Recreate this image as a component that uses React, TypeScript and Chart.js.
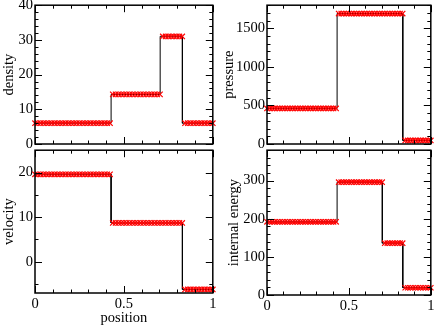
import React, { useEffect, useRef } from "react";
import { Chart, registerables } from "chart.js";

Chart.register(...registerables);

const FONT = "'Liberation Serif', 'Times New Roman', serif";

// numerical solution: sample positions and values
const positions = [
  0, 0.0156, 0.0313, 0.0469, 0.0625, 0.0781, 0.0938, 0.1094,
  0.125, 0.1406, 0.1563, 0.1719, 0.1875, 0.2031, 0.2188, 0.2344,
  0.25, 0.2656, 0.2813, 0.2969, 0.3125, 0.3281, 0.3438, 0.3594,
  0.375, 0.3906, 0.4063, 0.4219,
  0.4375, 0.4531, 0.4688, 0.4844, 0.5, 0.5156, 0.5313, 0.5469,
  0.5625, 0.5781, 0.5938, 0.6094, 0.625, 0.6406, 0.6563, 0.6719,
  0.6875, 0.7031,
  0.7188, 0.7344, 0.75, 0.7656, 0.7813, 0.7969, 0.8125, 0.8281,
  0.8438, 0.8594, 0.875, 0.8906, 0.9063, 0.9219, 0.9375, 0.9531, 0.9688, 0.9844, 1,
];

const densityValues = [
  6.0, 6.0, 6.0, 6.0, 6.0, 6.0, 6.0, 6.0,
  6.0, 6.0, 6.0, 6.0, 6.0, 6.0, 6.0, 6.0,
  6.0, 6.0, 6.0, 6.0, 6.0, 6.0, 6.0, 6.0,
  6.0, 6.0, 6.0, 6.0,
  14.3, 14.3, 14.3, 14.3, 14.3, 14.3, 14.3, 14.3,
  14.3, 14.3, 14.3, 14.3, 14.3, 14.3, 14.3, 14.3,
  14.3, 14.3,
  31.0, 31.0, 31.0, 31.0, 31.0, 31.0, 31.0, 31.0,
  6.0, 6.0, 6.0, 6.0, 6.0, 6.0, 6.0, 6.0, 6.0, 6.0, 6.0,
];

const pressureValues = [
  461, 461, 461, 461, 461, 461, 461, 461,
  461, 461, 461, 461, 461, 461, 461, 461,
  461, 461, 461, 461, 461, 461, 461, 461,
  461, 461, 461, 461,
  1692, 1692, 1692, 1692, 1692, 1692, 1692, 1692,
  1692, 1692, 1692, 1692, 1692, 1692, 1692, 1692,
  1692, 1692,
  1692, 1692, 1692, 1692, 1692, 1692, 1692, 1692,
  46, 46, 46, 46, 46, 46, 46, 46, 46, 46, 46,
];

const velocityValues = [
  19.6, 19.6, 19.6, 19.6, 19.6, 19.6, 19.6, 19.6,
  19.6, 19.6, 19.6, 19.6, 19.6, 19.6, 19.6, 19.6,
  19.6, 19.6, 19.6, 19.6, 19.6, 19.6, 19.6, 19.6,
  19.6, 19.6, 19.6, 19.6,
  8.7, 8.7, 8.7, 8.7, 8.7, 8.7, 8.7, 8.7,
  8.7, 8.7, 8.7, 8.7, 8.7, 8.7, 8.7, 8.7,
  8.7, 8.7,
  8.7, 8.7, 8.7, 8.7, 8.7, 8.7, 8.7, 8.7,
  -6.2, -6.2, -6.2, -6.2, -6.2, -6.2, -6.2, -6.2, -6.2, -6.2, -6.2,
];

const energyValues = [
  192, 192, 192, 192, 192, 192, 192, 192,
  192, 192, 192, 192, 192, 192, 192, 192,
  192, 192, 192, 192, 192, 192, 192, 192,
  192, 192, 192, 192,
  296, 296, 296, 296, 296, 296, 296, 296,
  296, 296, 296, 296, 296, 296, 296, 296,
  296, 296,
  136, 136, 136, 136, 136, 136, 136, 136,
  19, 19, 19, 19, 19, 19, 19, 19, 19, 19, 19,
];

// exact solution (step profile)
const exactPositions = [0, 0.428, 0.428, 0.704, 0.704, 0.829, 0.829, 1];
const densityExact = [6.0, 6.0, 14.28, 14.28, 31.04, 31.04, 5.99, 5.99];
const pressureExact = [461, 461, 1692, 1692, 1692, 1692, 46, 46];
const velocityExact = [19.6, 19.6, 8.69, 8.69, 8.69, 8.69, -6.2, -6.2];
const energyExact = [192, 192, 296, 296, 136, 136, 19.2, 19.2];

// tick labels
const positionTicks = [0, 0.5, 1];
const densityTicks = [0, 10, 20, 30, 40];
const pressureTicks = [0, 500, 1000, 1500];
const velocityTicks = [0, 10, 20];
const energyTicks = [0, 100, 200, 300];

const framePlugin = {
  id: "frame",
  afterDatasetsDraw(chart: any, _args: any, opts: any) {
    const { ctx, chartArea: a, scales } = chart;
    const xs = scales.x;
    const ys = scales.y;
    ctx.save();
    ctx.strokeStyle = "#000";
    ctx.lineWidth = 1;
    ctx.beginPath();
    const isMajor = (v: number, majors: number[]) =>
      majors.some((m) => Math.abs(m - v) < 1e-6);
    for (let k = Math.ceil(xs.min / opts.xMinor - 1e-9); k * opts.xMinor <= xs.max + 1e-9; k++) {
      const v = k * opts.xMinor;
      const L = isMajor(v, opts.xMajor) ? 7 : 3.5;
      const px = Math.round(xs.getPixelForValue(v)) + 0.5;
      ctx.moveTo(px, a.bottom);
      ctx.lineTo(px, a.bottom - L);
      ctx.moveTo(px, a.top);
      ctx.lineTo(px, a.top + L);
    }
    for (let k = Math.ceil(ys.min / opts.yMinor - 1e-9); k * opts.yMinor <= ys.max + 1e-9; k++) {
      const v = k * opts.yMinor;
      const L = isMajor(v, opts.yMajor) ? 7 : 3.5;
      const py = Math.round(ys.getPixelForValue(v)) + 0.5;
      ctx.moveTo(a.left, py);
      ctx.lineTo(a.left + L, py);
      ctx.moveTo(a.right, py);
      ctx.lineTo(a.right - L, py);
    }
    ctx.stroke();
    ctx.lineWidth = 1.5;
    ctx.strokeRect(a.left, a.top, a.right - a.left, a.bottom - a.top);
    ctx.restore();
  },
};

type PanelSpec = {
  left: number;
  top: number;
  w: number;
  h: number;
  area: { l: number; t: number; r: number; b: number };
  values: number[];
  exact: number[];
  yMin: number;
  yMax: number;
  yTicks: number[];
  yMinor: number;
  yTitle: string;
  showX: boolean;
  xTitle?: string;
};

const panels: PanelSpec[] = [
  {
    left: 0, top: 0, w: 218, h: 150,
    area: { l: 35, t: 5, r: 215, b: 147 },
    values: densityValues, exact: densityExact,
    yMin: 0, yMax: 40, yTicks: densityTicks, yMinor: 2,
    yTitle: "density", showX: false,
  },
  {
    left: 220, top: 0, w: 216, h: 150,
    area: { l: 267, t: 5, r: 431, b: 147 },
    values: pressureValues, exact: pressureExact,
    yMin: 0, yMax: 1800, yTicks: pressureTicks, yMinor: 100,
    yTitle: "pressure", showX: false,
  },
  {
    left: 0, top: 145, w: 218, h: 182,
    area: { l: 35, t: 147, r: 215, b: 293 },
    values: velocityValues, exact: velocityExact,
    yMin: -7, yMax: 25, yTicks: velocityTicks, yMinor: 5,
    yTitle: "velocity", showX: true, xTitle: "position",
  },
  {
    left: 225, top: 145, w: 211, h: 182,
    area: { l: 267, t: 147, r: 432, b: 295 },
    values: energyValues, exact: energyExact,
    yMin: 0, yMax: 380, yTicks: energyTicks, yMinor: 20,
    yTitle: "internal energy", showX: true,
  },
];

function Panel({ spec }: { spec: PanelSpec }) {
  const ref = useRef<HTMLCanvasElement>(null);
  useEffect(() => {
    if (!ref.current) return;
    const s = spec;
    const padTop = s.area.t - s.top;
    const padRight = s.left + s.w - s.area.r;
    const xHeight = s.top + s.h - s.area.b;
    const yWidth = s.area.l - s.left;
    const chart = new Chart(ref.current, {
      type: "scatter",
      data: {
        datasets: [
          {
            data: positions.map((x, i) => ({ x, y: s.values[i] })),
            showLine: false,
            pointStyle: "crossRot",
            pointRadius: 3.8,
            pointBorderWidth: 1.2,
            pointBorderColor: "#ff0000",
            pointBackgroundColor: "#ff0000",
            clip: false,
          } as any,
          {
            data: exactPositions.map((x, i) => ({ x, y: s.exact[i] })),
            showLine: true,
            borderColor: "#000",
            borderWidth: 1,
            pointRadius: 0,
            tension: 0,
          } as any,
        ],
      },
      options: {
        responsive: false,
        animation: false,
        devicePixelRatio: 1,
        events: [],
        layout: {
          padding: {
            left: 0,
            top: padTop,
            right: padRight,
            bottom: s.showX ? 0 : xHeight,
          },
        },
        plugins: {
          legend: { display: false },
          tooltip: { enabled: false },
          frame: {
            xMajor: positionTicks,
            xMinor: 0.1,
            yMajor: s.yTicks,
            yMinor: s.yMinor,
          },
        } as any,
        scales: {
          x: {
            type: "linear",
            min: 0,
            max: 1,
            display: s.showX,
            grid: { display: false, drawTicks: false },
            border: { display: false },
            ticks: {
              color: "#000",
              font: { family: FONT, size: 14.5 },
              padding: 2,
              maxRotation: 0,
              autoSkip: false,
              callback: (v: any) => String(v),
            },
            afterBuildTicks: (sc: any) => {
              sc.ticks = positionTicks.map((v) => ({ value: v }));
            },
            afterFit: (sc: any) => {
              sc.height = xHeight;
              sc.paddingLeft = 0;
              sc.paddingRight = 0;
            },
            title: {
              display: !!s.xTitle,
              text: s.xTitle || "",
              color: "#000",
              font: { family: FONT, size: 14.5 },
              padding: { top: 0, bottom: 0 },
            },
          },
          y: {
            type: "linear",
            min: s.yMin,
            max: s.yMax,
            grid: { display: false, drawTicks: false },
            border: { display: false },
            ticks: {
              color: "#000",
              font: { family: FONT, size: 14.5 },
              padding: 2,
              autoSkip: false,
              callback: (v: any) => String(v),
            },
            afterBuildTicks: (sc: any) => {
              sc.ticks = s.yTicks.map((v) => ({ value: v }));
            },
            afterFit: (sc: any) => {
              sc.width = yWidth;
              sc.paddingTop = 0;
              sc.paddingBottom = 0;
            },
            title: {
              display: true,
              text: s.yTitle,
              color: "#000",
              font: { family: FONT, size: 14.5 },
              padding: { top: 0, bottom: 0 },
            },
          },
        },
      },
      plugins: [framePlugin as any],
    });
    return () => chart.destroy();
  }, [spec]);
  return (
    <canvas
      ref={ref}
      width={spec.w}
      height={spec.h}
      style={{
        position: "absolute",
        left: spec.left,
        top: spec.top,
        width: spec.w,
        height: spec.h,
      }}
    />
  );
}

export default function App() {
  return (
    <div
      style={{
        position: "fixed",
        left: 0,
        top: 0,
        width: 436,
        height: 327,
        background: "#fff",
      }}
    >
      {panels.map((p, i) => (
        <Panel key={i} spec={p} />
      ))}
    </div>
  );
}
